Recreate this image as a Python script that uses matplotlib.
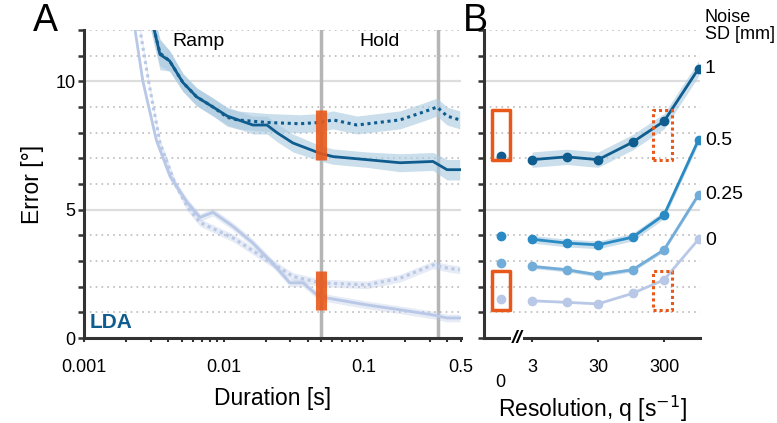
import numpy as np
import matplotlib
matplotlib.use("Agg")
import matplotlib.pyplot as plt
from matplotlib.ticker import FixedLocator, NullFormatter, LogLocator

plt.rcParams['font.family'] = ['Liberation Sans', 'DejaVu Sans']

# --- Painel A: erro vs duracao ---
dur_dark = [0.0030, 0.0032, 0.0035, 0.0041, 0.0051, 0.0064, 0.0084, 0.0106, 0.0162,
            0.0204, 0.0241, 0.0313, 0.0489, 0.0606, 0.106, 0.183, 0.315, 0.397, 0.49]
err_dark_solid = [12.6, 11.95, 11.05, 10.8, 9.96, 9.4, 9.0, 8.65, 8.3,
                  8.3, 8.0, 7.6, 7.2, 7.07, 6.95, 6.83, 6.88, 6.56, 6.56]
sem_dark_solid = [0.6, 0.6, 0.6, 0.4, 0.35, 0.35, 0.35, 0.35, 0.35,
                  0.35, 0.35, 0.35, 0.3, 0.3, 0.3, 0.35, 0.35, 0.4, 0.4]

dur_dark_dot = [0.0030, 0.0032, 0.0035, 0.0041, 0.0051, 0.0064, 0.0084, 0.0106, 0.0125,
                0.0204, 0.035, 0.0489, 0.0606, 0.09, 0.183, 0.267, 0.337, 0.397, 0.49]
err_dark_dot = [12.6, 11.95, 11.1, 10.8, 9.96, 9.4, 9.0, 8.6, 8.5,
                8.4, 8.35, 8.4, 8.5, 8.3, 8.5, 8.8, 9.0, 8.65, 8.5]
sem_dark_dot = [0.5, 0.5, 0.5, 0.4, 0.35, 0.35, 0.35, 0.35, 0.35,
                0.35, 0.35, 0.35, 0.35, 0.35, 0.35, 0.35, 0.35, 0.35, 0.35]

dur_light = [0.0022, 0.00232, 0.00264, 0.0033, 0.00413, 0.00546, 0.00677, 0.00838, 0.01166,
             0.0162, 0.0225, 0.0298, 0.037, 0.0466, 0.0549, 0.106, 0.183, 0.315, 0.397, 0.49]
err_light_solid = [12.6, 12.0, 10.0, 7.7, 6.3, 5.3, 4.7, 4.9, 4.35,
                   3.7, 2.9, 2.15, 2.15, 1.68, 1.56, 1.29, 1.1, 0.9, 0.78, 0.78]

dur_light_dot = [0.0024, 0.00252, 0.0029, 0.0035, 0.0045, 0.0055, 0.00677, 0.01166,
                 0.0204, 0.0313, 0.0489, 0.106, 0.183, 0.315, 0.397, 0.49]
err_light_dot = [12.6, 12.0, 10.0, 7.6, 6.0, 5.1, 4.5, 3.9,
                 3.05, 2.4, 2.15, 2.07, 2.33, 2.85, 2.73, 2.66]

# barras laranja em 0.05 s
orange_x = 0.05
orange_ranges = [(6.95, 8.9), (1.1, 2.6)]
phase_lines = [0.05, 0.345]

# --- Painel B: erro vs resolucao ---
q_vals = [3, 10, 30, 100, 300, 1000]
noise_labels = ['1', '0.5', '0.25', '0']
err_q0 = [7.1, 3.98, 2.92, 1.51]
err_q = [
    [6.95, 7.06, 6.95, 7.63, 8.45, 10.5],
    [3.85, 3.70, 3.63, 3.93, 4.80, 7.73],
    [2.79, 2.66, 2.46, 2.66, 3.44, 5.59],
    [1.45, 1.39, 1.33, 1.74, 2.27, 3.85],
]
sem_q = [0.3, 0.15, 0.08, 0.06]
label_y = [10.5, 7.7, 5.6, 3.8]

DARK = '#0f5c8e'
MED = '#2a8bc4'
LIGHTB = '#72acd8'
PALE = '#b8c8e6'
BAND = '#a9c9df'
ORANGE = '#e8581a'
series_colors = [DARK, MED, LIGHTB, PALE]

fig = plt.figure(figsize=(7.77, 4.23), dpi=100)
axA = fig.add_axes([0.1081, 0.2009, 0.4852, 0.728])
axB = fig.add_axes([0.6229, 0.2009, 0.278, 0.728])


def style_axis(ax):
    for s in ['top', 'right']:
        ax.spines[s].set_visible(False)
    for s in ['left', 'bottom']:
        ax.spines[s].set_linewidth(2.2)
        ax.spines[s].set_color('#333333')
    ax.set_ylim(0, 12)
    ax.yaxis.set_major_locator(FixedLocator([0, 5, 10]))
    ax.yaxis.set_minor_locator(FixedLocator(range(0, 13)))
    ax.tick_params(axis='y', which='both', direction='out', length=4, width=1.8,
                   color='#333333', labelsize=13, pad=2)
    ax.tick_params(axis='x', which='both', direction='out', length=3, width=1.5,
                   color='#333333', labelsize=13)
    for v in range(1, 13):
        if v in (5, 10):
            ax.axhline(v, color='#dddddd', lw=1.6, zorder=0)
        else:
            ax.axhline(v, color='#bbbbbb', lw=1.2, ls=(0, (1, 2.5)), zorder=0)


# ---------- A ----------
style_axis(axA)
axA.set_xscale('log')
axA.set_xlim(0.001, 0.5)
for xv in phase_lines:
    axA.axvline(xv, color='#b5b5b5', lw=2.5, zorder=1)

d = np.array(dur_dark); e = np.array(err_dark_solid); s = np.array(sem_dark_solid)
axA.fill_between(d, e - s, e + s, color=BAND, alpha=0.6, lw=0, zorder=2)
d2 = np.array(dur_dark_dot); e2 = np.array(err_dark_dot); s2 = np.array(sem_dark_dot)
axA.fill_between(d2, e2 - s2, e2 + s2, color=BAND, alpha=0.6, lw=0, zorder=2)

dl = np.array(dur_light); el = np.array(err_light_solid)
axA.fill_between(dl, el - 0.15, el + 0.15, color=PALE, alpha=0.35, lw=0, zorder=2)
dl2 = np.array(dur_light_dot); el2 = np.array(err_light_dot)
axA.fill_between(dl2, el2 - 0.15, el2 + 0.15, color=PALE, alpha=0.35, lw=0, zorder=2)

axA.plot(dl, el, color=PALE, lw=2, zorder=3)
axA.plot(dl2, el2, color=PALE, lw=2.2, ls=(0, (1, 1.2)), zorder=3)
axA.plot(d, e, color=DARK, lw=2, zorder=4)
axA.plot(d2, e2, color=DARK, lw=2.2, ls=(0, (1, 1.2)), zorder=4)

for lo, hi in orange_ranges:
    axA.plot([orange_x, orange_x], [lo, hi], color=ORANGE, lw=8, alpha=0.9,
             solid_capstyle='butt', zorder=5)

axA.set_xticks([0.001, 0.01, 0.1, 0.5])
axA.set_xticklabels(['0.001', '0.01', '0.1', '0.5'])
axA.xaxis.set_minor_locator(LogLocator(base=10, subs=np.arange(2, 10)))
axA.xaxis.set_minor_formatter(NullFormatter())
axA.tick_params(axis='x', which='major', pad=12)
axA.set_ylabel('Error [°]', fontsize=16.5, labelpad=8)
axA.set_xlabel('Duration [s]', fontsize=16.5, labelpad=8)
axA.text(0.0066, 11.55, 'Ramp', ha='center', va='center', fontsize=14)
axA.text(0.13, 11.55, 'Hold', ha='center', va='center', fontsize=14)
axA.text(0.015, 0.02, 'LDA', transform=axA.transAxes, color=DARK,
         fontsize=15, fontweight='bold', ha='left', va='bottom')
fig.text(0.058, 0.95, 'A', fontsize=27, ha='center', va='center')

# ---------- B ----------
style_axis(axB)
axB.set_xscale('log')
axB.set_xlim(0.56, 1050)
axB.set_yticklabels([])
zero_pos = 1.0

for i in range(len(err_q)):
    vals = np.array(err_q[i])
    c = series_colors[i]
    if sem_q[i] > 0.07:
        axB.fill_between(q_vals, vals - sem_q[i], vals + sem_q[i], color=BAND,
                         alpha=0.6, lw=0, zorder=2)
    axB.plot(q_vals, vals, color=c, lw=2, marker='o', ms=6, zorder=3 + i * 0.1)
    axB.plot([zero_pos], [err_q0[i]], color=c, marker='o', ms=6, zorder=3)
    axB.text(1250, label_y[i], noise_labels[i], fontsize=14, ha='left', va='center',
             clip_on=False)

axB.text(1230, 12.15, 'Noise\nSD [mm]', fontsize=13, ha='left', va='center',
         linespacing=1.0, clip_on=False)

# caixas laranja
for lo, hi in orange_ranges:
    axB.fill_between([0.74, 1.39], [lo, lo], [hi, hi], facecolor='none',
                     edgecolor=ORANGE, lw=2.5, zorder=4)
    axB.plot([204, 396, 396, 204, 204], [lo, lo, hi, hi, lo], color=ORANGE,
             lw=2.2, ls=(0, (1, 1)), zorder=4)

axB.set_xticks([3, 30, 300])
axB.set_xticklabels(['3', '30', '300'])
axB.xaxis.set_minor_locator(LogLocator(base=10, subs=np.arange(2, 10)))
axB.xaxis.set_minor_formatter(NullFormatter())
axB.tick_params(axis='x', which='major', pad=12)
axB.text(zero_pos, -1.75, '0', fontsize=13, ha='center', va='center', clip_on=False)
axB.text(0.153, 0.0, '//', transform=axB.transAxes, fontsize=14, ha='center',
         va='center', style='italic', fontweight='bold',
         bbox=dict(facecolor='white', edgecolor='none', pad=0.5))
axB.set_xlabel('Resolution, q [s$^{-1}$]', fontsize=16.5, labelpad=13)
fig.text(0.612, 0.95, 'B', fontsize=27, ha='center', va='center')

fig.savefig('out.png', dpi=100)
